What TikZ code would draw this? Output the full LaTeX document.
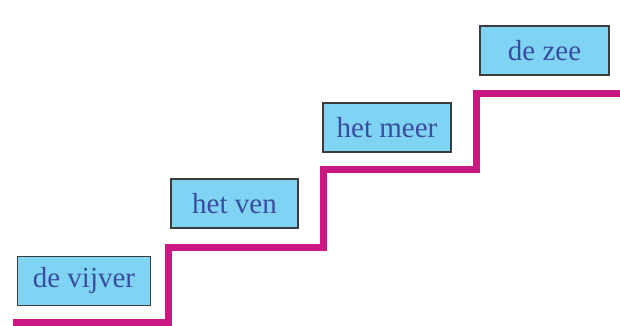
\documentclass[tikz,border=0pt]{standalone}
\usepackage{fontspec}
\setmainfont{Liberation Serif}
\definecolor{stair}{RGB}{201,24,130}
\definecolor{boxfill}{RGB}{128,212,243}
\definecolor{boxtext}{RGB}{58,76,160}
\definecolor{boxline}{RGB}{60,60,60}
\begin{document}
\begin{tikzpicture}[x=1pt,y=-1pt,
  lbl/.style={draw=boxline,line width=1.1pt,fill=boxfill,text=boxtext,
    minimum width=133pt,minimum height=49pt,inner sep=0pt,
    font=\fontsize{29}{33}\selectfont},
  stairline/.style={draw=stair,line width=7pt}]
\useasboundingbox (0,0) rectangle (620,325);
\node[lbl,minimum width=133pt] (a) at (84,281) {de vijver};
\node[lbl,minimum width=127pt] (b) at (234.5,203.5) {het ven};
\node[lbl,minimum width=128pt] (c) at (387,127.5) {het meer};
\node[lbl,minimum width=129pt] (d) at (544.5,50.5) {de zee};
\coordinate (s0) at (13,322);
\coordinate (s1) at (168,322);
\coordinate (s2) at (168,247);
\coordinate (s3) at (323.5,247);
\coordinate (s4) at (323.5,169.5);
\coordinate (s5) at (476,169.5);
\coordinate (s6) at (476,93);
\coordinate (s7) at (620,93);
\draw[stairline] (s0) -- (s1) -- (s2) -- (s3) -- (s4) -- (s5) -- (s6) -- (s7);
\end{tikzpicture}
\end{document}
